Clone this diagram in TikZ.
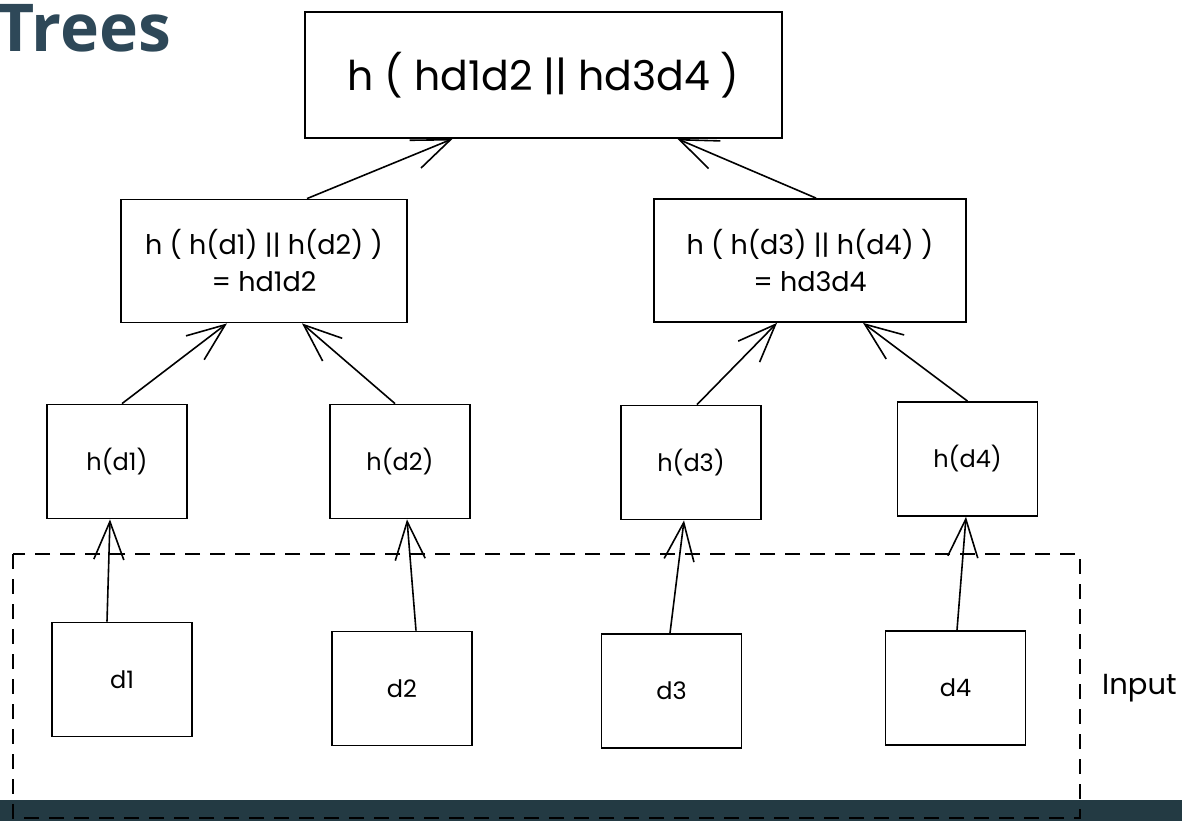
\documentclass[tikz,border=0pt]{standalone}
\usepackage{fontspec}
\setmainfont{Poppins}
\newfontfamily\titlefont{Open Sans}
\usetikzlibrary{arrows.meta}
\definecolor{titleink}{HTML}{2E4858}
\definecolor{bandfill}{HTML}{233A43}
\begin{document}
\begin{tikzpicture}[x=1pt,y=-1pt,
  box/.style={draw, line width=1.8pt, inner sep=0pt, align=center},
  rootbox/.style={box, minimum width=477pt, minimum height=126pt,
    font=\fontsize{41}{48}\selectfont},
  midbox/.style={box, minimum height=123pt,
    font=\fontsize{27}{37}\selectfont},
  leafbox/.style={box, minimum width=140pt, minimum height=114pt,
    font=\fontsize{24}{28}\selectfont},
  link/.style={line width=1.6pt,
    -{Straight Barb[length=38pt,width=30pt,line width=1.6pt]}},
  inputframe/.style={line width=1.6pt, dash pattern=on 15pt off 10pt}
]
\useasboundingbox (0,0) rectangle (1182,821);

% title
\node[font=\titlefont\bfseries\fontsize{66}{70}\selectfont, text=titleink,
  inner sep=0pt, anchor=base east] (title) at (171,52) {Trees};

% footer band
\fill[bandfill] (0,800) rectangle (1182,821);

% root hash
\node[rootbox] (root) at (543.5,75) {h ( hd1d2 \textbar\textbar{} hd3d4 )};

% intermediate hashes
\node[midbox, minimum width=286pt] (hl) at (264,261)
  {h ( h(d1) \textbar\textbar{} h(d2) )\\= hd1d2};
\node[midbox, minimum width=312pt] (hr) at (810,260.5)
  {h ( h(d3) \textbar\textbar{} h(d4) )\\= hd3d4};

% leaf hashes
\node[leafbox] (h1) at (117,461.5) {h(d1)};
\node[leafbox] (h2) at (400,461.5) {h(d2)};
\node[leafbox] (h3) at (691,462.5) {h(d3)};
\node[leafbox] (h4) at (967.5,459) {h(d4)};

% data blocks
\node[leafbox] (d1) at (122,679.5) {d1};
\node[leafbox] (d2) at (402,688.5) {d2};
\node[leafbox] (d3) at (671.5,691) {d3};
\node[leafbox] (d4) at (955.5,688) {d4};

% input frame
\coordinate (inTL) at (13,554);
\coordinate (inBR) at (1080,818);
\draw[inputframe] (inTL) rectangle (inBR);
\node[font=\fontsize{29}{32}\selectfont, anchor=west, inner sep=0pt]
  (inlabel) at (1102,688) {Input};

% hash links
\draw[link] ([xshift=43pt]hl.north) -- ([xshift=-91pt]root.south);
\draw[link] ([xshift=6pt]hr.north) -- ([xshift=134pt]root.south);
\draw[link] ([xshift=5pt]h1.north) -- ([xshift=-37pt]hl.south);
\draw[link] ([xshift=-5pt]h2.north) -- ([xshift=38pt]hl.south);
\draw[link] ([xshift=6pt]h3.north) -- ([xshift=-33pt]hr.south);
\draw[link] ([xshift=0pt]h4.north) -- ([xshift=53pt]hr.south);
\draw[link] ([xshift=-15pt]d1.north) -- ([xshift=-7pt]h1.south);
\draw[link] ([xshift=14pt]d2.north) -- ([xshift=7pt]h2.south);
\draw[link] ([xshift=-1.5pt]d3.north) -- ([xshift=-7pt]h3.south);
\draw[link] ([xshift=1.5pt]d4.north) -- ([xshift=-1.5pt]h4.south);
\end{tikzpicture}
\end{document}
